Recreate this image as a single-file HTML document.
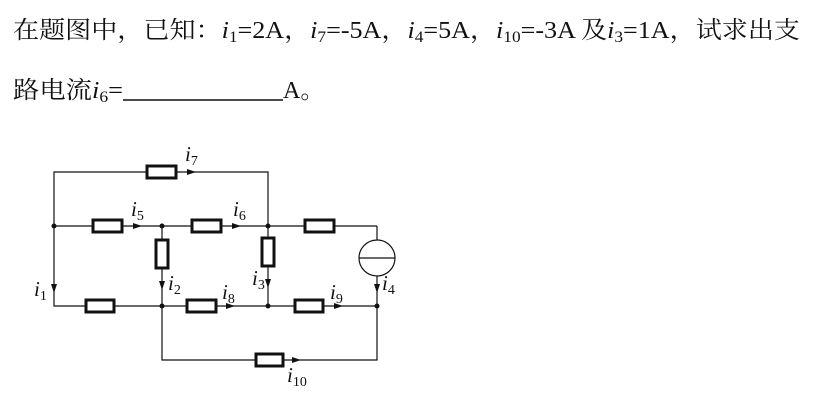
<!DOCTYPE html>
<html><head><meta charset="utf-8"><style>
html,body{margin:0;padding:0;background:#fff;}
svg{display:block;}
.t{font-family:"Liberation Serif","Noto Serif CJK SC",serif;font-size:24px;fill:#111;}
.l{font-family:"Liberation Serif",serif;font-style:italic;font-size:21px;fill:#111;}
.s{font-size:14px;font-style:normal;}
</style></head><body>
<svg width="824" height="400" viewBox="0 0 824 400" xmlns="http://www.w3.org/2000/svg">
<text class="t" x="13" y="38" textLength="787" lengthAdjust="spacingAndGlyphs">在题图中，已知：<tspan font-style="italic">i</tspan><tspan font-size="16" dy="4">1</tspan><tspan dy="-4">=2A，</tspan><tspan font-style="italic">i</tspan><tspan font-size="16" dy="4">7</tspan><tspan dy="-4">=-5A，</tspan><tspan font-style="italic">i</tspan><tspan font-size="16" dy="4">4</tspan><tspan dy="-4">=5A，</tspan><tspan font-style="italic">i</tspan><tspan font-size="16" dy="4">10</tspan><tspan dy="-4">=-3A  及</tspan><tspan font-style="italic">i</tspan><tspan font-size="16" dy="4">3</tspan><tspan dy="-4">=1A，试求出支</tspan></text>
<text class="t" x="13" y="98" textLength="110" lengthAdjust="spacingAndGlyphs">路电流<tspan font-style="italic">i</tspan><tspan font-size="16" dy="4">6</tspan><tspan dy="-4">=</tspan></text>
<line x1="123" y1="100" x2="283" y2="100" stroke="#111" stroke-width="1.5"/>
<text class="t" x="283" y="98">A。</text>

<g stroke="#111" stroke-width="1.2" fill="none">
<polyline points="54,226 54,172 268,172 268,306"/>
<line x1="54" y1="226" x2="377" y2="226"/>
<polyline points="377,226 377,240"/>
<polyline points="377,276 377,306"/>
<polyline points="54,226 54,306 377,306"/>
<line x1="162" y1="226" x2="162" y2="306"/>
<polyline points="162,306 162,360 377,360 377,306"/>
<circle cx="377" cy="258" r="18" fill="#fff"/>
<line x1="359" y1="258" x2="395" y2="258"/>
</g>
<g stroke="#111" stroke-width="3" fill="#fff">
<rect x="147" y="166" width="29" height="12"/>
<rect x="93" y="220" width="29" height="12"/>
<rect x="192" y="220" width="29" height="12"/>
<rect x="305" y="220" width="29" height="12"/>
<rect x="156" y="240" width="12" height="28"/>
<rect x="262" y="238" width="12" height="28"/>
<rect x="86" y="300" width="28" height="12"/>
<rect x="187" y="300" width="29" height="12"/>
<rect x="295" y="300" width="28" height="12"/>
<rect x="256" y="354" width="27" height="12"/>
</g>
<g fill="#111">
<polygon points="187,169 187,175 196,172"/>
<polygon points="133,223 133,229 142,226"/>
<polygon points="232,223 232,229 241,226"/>
<polygon points="226,303 226,309 235,306"/>
<polygon points="334,303 334,309 343,306"/>
<polygon points="292,357 292,363 301,360"/>
<polygon points="51,284 57,284 54,293"/>
<polygon points="159,281 165,281 162,290"/>
<polygon points="265,279 271,279 268,288"/>
<polygon points="374,284 380,284 377,293"/>
<circle cx="54" cy="226" r="2.5"/><circle cx="162" cy="226" r="2.5"/><circle cx="268" cy="226" r="2.5"/>
<circle cx="162" cy="306" r="2.5"/><circle cx="268" cy="306" r="2.5"/><circle cx="377" cy="306" r="2.5"/>
</g>
<text class="l" x="185" y="161">i<tspan class="s" dy="4">7</tspan></text>
<text class="l" x="131" y="216">i<tspan class="s" dy="4">5</tspan></text>
<text class="l" x="233" y="216">i<tspan class="s" dy="4">6</tspan></text>
<text class="l" x="34" y="296">i<tspan class="s" dy="4">1</tspan></text>
<text class="l" x="168" y="290">i<tspan class="s" dy="4">2</tspan></text>
<text class="l" x="252" y="285">i<tspan class="s" dy="4">3</tspan></text>
<text class="l" x="382" y="290">i<tspan class="s" dy="4">4</tspan></text>
<text class="l" x="222" y="299">i<tspan class="s" dy="4">8</tspan></text>
<text class="l" x="330" y="299">i<tspan class="s" dy="4">9</tspan></text>
<text class="l" x="287" y="382">i<tspan class="s" dy="4">10</tspan></text>
</svg>
</body></html>
